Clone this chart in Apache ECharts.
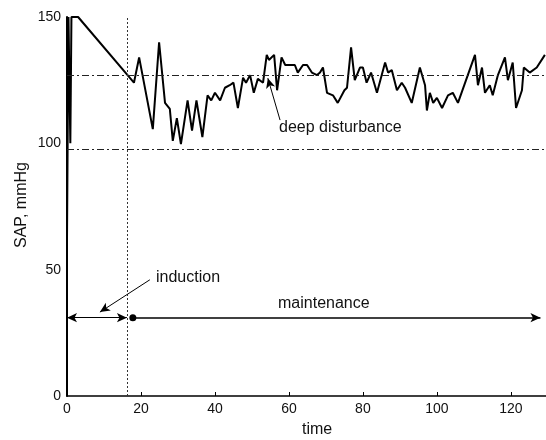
<!DOCTYPE html>
<html>
<head>
<meta charset="utf-8">
<script src="https://cdn.jsdelivr.net/npm/echarts@6/dist/echarts.min.js"></script>
<style>html,body{margin:0;padding:0;background:#fff}#c{width:546px;height:440px}</style>
</head>
<body>
<div id="c"></div>
<script>
// time points (x) and SAP values (mmHg)
const time = [0,0.4,0.9,1.2,3,18.1,19.5,23.2,24.9,26.5,27.8,28.6,29.7,30.8,32.6,33.8,35,36.6,38,39,40,41.4,42.7,44,45,46.2,47.6,48.4,49.5,50.5,51.6,53,54,54.6,56,56.8,58,59,61.6,62.4,63.8,64.9,66.2,67.6,68.4,69.2,70.3,71.9,73.2,75,75.7,76.8,77.8,79.2,80,81,82.2,83.8,86,86.8,87.8,89.2,90.5,91.4,93.2,95.4,96.8,97.3,98.1,99,100,101.4,103,104.3,105.7,110.3,111.1,112.2,113,114.3,115.1,116.5,118.4,119.2,120.5,121.4,123,123.5,125.1,127,129.2];
const sap = [62,150,100,150,150,124,134,105.6,140,116,113.6,101,110,99.7,117,105,117,102.5,119,117,120,117,122,123,124,114,126,124,127,120,125.5,124,135,133,135,121,134,131,131,128,131,131,128,127,128,130,120,119,116,121,122,138,125,130,130,124,128,120,132,128,129,121,124,122,116,130,123,113,120,116,118,114,119,120,116,135,123,130,120,123,119,127,134,125,132,114,121,130,128,130,135];
const xTicks = [0,20,40,60,80,100,120];
const yTicks = [0,50,100,150];
const upperThreshold = 127;
const lowerThreshold = 97.5;
const inductionEnd = 16.2;
const phaseLevel = 31;
const maintenanceStart = 17.8;
const maintenanceEnd = 128;
const inductionArrow = [[22.4, 46], [8.9, 33.2]];
const disturbanceArrow = [[57.6, 109.2], [54.3, 125.8]];

const FONT = "'Liberation Sans', Arial, Helvetica, sans-serif";
const chart = echarts.init(document.getElementById('c'), null, {renderer: 'canvas'});
const lineData = time.map((t, i) => [t, sap[i]]);
const dashDot = [7, 3, 2, 3];

chart.setOption({
  animation: false,
  backgroundColor: '#fff',
  grid: {left: 67, right: 0, top: 17, bottom: 44, containLabel: false},
  xAxis: {
    type: 'value', min: 0, max: 129.5, interval: 20,
    axisLine: {lineStyle: {color: '#000', width: 1.5}},
    axisTick: {inside: true, length: 4, lineStyle: {color: '#000'}},
    axisLabel: {color: '#111', fontSize: 14, fontFamily: FONT, margin: 6, showMaxLabel: false,
      formatter: v => xTicks.includes(v) ? String(v) : ''},
    splitLine: {show: false}
  },
  yAxis: {
    type: 'value', min: 0, max: 150, interval: 50,
    axisLine: {show: true, lineStyle: {color: '#000', width: 2}},
    axisTick: {show: false},
    axisLabel: {color: '#111', fontSize: 14, fontFamily: FONT, margin: 6,
      formatter: v => yTicks.includes(v) ? String(v) : ''},
    splitLine: {show: false}
  },
  series: [{
    type: 'line',
    data: lineData,
    showSymbol: false,
    symbol: 'none',
    lineStyle: {color: '#000', width: 2},
    clip: false,
    markLine: {
      silent: true,
      symbol: 'none',
      label: {show: false},
      animation: false,
      data: [
        {yAxis: upperThreshold, lineStyle: {color: '#222', width: 1, type: dashDot}},
        {yAxis: lowerThreshold, lineStyle: {color: '#222', width: 1, type: dashDot}},
        {xAxis: inductionEnd, lineStyle: {color: '#333', width: 1, type: [2, 2]}},
        [
          {coord: [0, phaseLevel], symbol: 'arrow', symbolSize: [7, 10], lineStyle: {color: '#000', width: 1, type: 'solid'}},
          {coord: [inductionEnd, phaseLevel], symbol: 'arrow', symbolSize: [7, 10]}
        ],
        [
          {coord: [maintenanceStart, phaseLevel], symbol: 'circle', symbolSize: 7, lineStyle: {color: '#000', width: 1.5, type: 'solid'}},
          {coord: [maintenanceEnd, phaseLevel], symbol: 'arrow', symbolSize: [7, 10]}
        ],
        [
          {coord: inductionArrow[0], symbol: 'none', lineStyle: {color: '#000', width: 1, type: 'solid'}},
          {coord: inductionArrow[1], symbol: 'arrow', symbolSize: [7, 10]}
        ],
        [
          {coord: disturbanceArrow[0], symbol: 'none', lineStyle: {color: '#000', width: 1, type: 'solid'}},
          {coord: disturbanceArrow[1], symbol: 'arrow', symbolSize: [7, 10]}
        ]
      ],
      itemStyle: {color: '#000'}
    }
  }],
  graphic: [
    {type: 'text', left: 156, top: 270, style: {text: 'induction', fill: '#111', font: '16px ' + FONT}},
    {type: 'text', left: 278, top: 296, style: {text: 'maintenance', fill: '#111', font: '16px ' + FONT}},
    {type: 'text', left: 279, top: 120, style: {text: 'deep disturbance', fill: '#111', font: '16px ' + FONT}},
    {type: 'text', left: 302, top: 422, style: {text: 'time', fill: '#111', font: '16px ' + FONT}},
    {type: 'text', x: 14, y: 248, rotation: Math.PI / 2, style: {text: 'SAP, mmHg', fill: '#111', font: '16px ' + FONT, textAlign: 'left', textVerticalAlign: 'top'}}
  ]
});
</script>
</body>
</html>
